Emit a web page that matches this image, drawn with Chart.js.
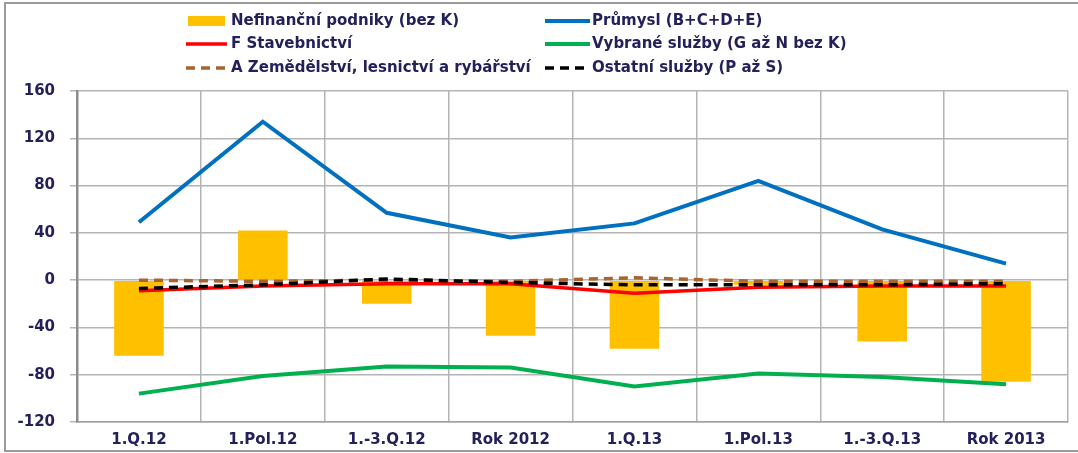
<!DOCTYPE html>
<html>
<head>
<meta charset="utf-8">
<script src="https://cdn.jsdelivr.net/npm/chart.js@4/dist/chart.umd.min.js"></script>
<style>
html,body{margin:0;padding:0;background:#fff;}
#wrap{position:absolute;left:0;top:0;width:1078px;height:453px;}
</style>
</head>
<body>
<div id="wrap"><canvas id="c" width="1078" height="453"></canvas></div>
<script>
const categories = ['1.Q.12','1.Pol.12','1.-3.Q.12','Rok 2012','1.Q.13','1.Pol.13','1.-3.Q.13','Rok 2013'];
const nefinancni = [-64, 42, -20, -47, -58, -4, -52, -86];
const prumysl = [49, 134, 57, 36, 48, 84, 43, 14];
const stavebnictvi = [-9, -5, -3, -3, -11, -6, -5, -5];
const sluzby = [-96, -81, -73, -74, -90, -79, -82, -88];
const zemedelstvi = [0, -1, 0, -1, 2, -1, -1, -1];
const ostatni = [-7, -4, 1, -2, -4, -4, -4, -3];
const yTicks = [-120, -80, -40, 0, 40, 80, 120, 160];

const TEXT = '#24215a';
const FONT = 'DejaVu Sans';

const frameAndLegend = {
  id: 'frameAndLegend',
  beforeDraw(chart) {
    const ctx = chart.ctx;
    ctx.save();
    ctx.fillStyle = '#fff';
    ctx.fillRect(0, 0, chart.width, chart.height);
    ctx.strokeStyle = '#9a9a9a';
    ctx.lineWidth = 2;
    ctx.strokeRect(5, 3, 1075, 448);
    ctx.restore();
  },
  afterDraw(chart) {
    const ctx = chart.ctx;
    const cols = [{sx: 186, ex: 227, tx: 231}, {sx: 545, ex: 590, tx: 592}];
    const rows = [21, 44, 68];
    ctx.save();
    ctx.font = 'bold 15px "' + FONT + '"';
    ctx.textBaseline = 'middle';
    chart.data.datasets.forEach((ds, i) => {
      const c = cols[i % 2], y = rows[Math.floor(i / 2)];
      if (ds.type === 'bar') {
        ctx.fillStyle = ds.backgroundColor;
        ctx.fillRect(c.sx + 2, y - 5, c.ex - c.sx - 4, 10);
      } else {
        ctx.strokeStyle = ds.borderColor;
        ctx.lineWidth = ds.borderWidth;
        ctx.setLineDash(ds.borderDash || []);
        ctx.beginPath();
        ctx.moveTo(c.sx, y);
        ctx.lineTo(c.ex, y);
        ctx.stroke();
        ctx.setLineDash([]);
      }
      ctx.fillStyle = TEXT;
      ctx.fillText(ds.label, c.tx, y);
    });
    ctx.restore();
  }
};

new Chart(document.getElementById('c'), {
  data: {
    labels: categories,
    datasets: [
      {type: 'bar', label: 'Nefinanční podniky (bez K)', data: nefinancni, backgroundColor: '#FFC000', barPercentage: 0.4, categoryPercentage: 1.0, order: 10},
      {type: 'line', label: 'Průmysl (B+C+D+E)', data: prumysl, borderColor: '#0070C0', borderWidth: 4, pointRadius: 0, tension: 0, order: 1},
      {type: 'line', label: 'F Stavebnictví', data: stavebnictvi, borderColor: '#FF0000', borderWidth: 3.5, pointRadius: 0, tension: 0, order: 4},
      {type: 'line', label: 'Vybrané služby (G až N bez K)', data: sluzby, borderColor: '#00B050', borderWidth: 4, pointRadius: 0, tension: 0, order: 2},
      {type: 'line', label: 'A Zemědělství, lesnictví a rybářství', data: zemedelstvi, borderColor: '#A8642E', borderWidth: 3.5, borderDash: [9, 6], pointRadius: 0, tension: 0, order: 5},
      {type: 'line', label: 'Ostatní služby (P až S)', data: ostatni, borderColor: '#000000', borderWidth: 3.5, borderDash: [9, 6], pointRadius: 0, tension: 0, order: 3}
    ]
  },
  options: {
    responsive: false,
    animation: false,
    events: [],
    layout: {padding: {top: 91, right: 10, bottom: 0, left: 0}},
    plugins: {legend: {display: false}, tooltip: {enabled: false}, title: {display: false}},
    scales: {
      x: {
        offset: true,
        grid: {offset: true, color: '#b4b4b4', lineWidth: 1.5, drawTicks: false},
        border: {color: '#a0a0a0', width: 1.5},
        ticks: {color: TEXT, font: {family: FONT, size: 15, weight: 'bold'}, padding: 9, maxRotation: 0, autoSkip: false},
        afterFit(s) { s.height = 31; }
      },
      y: {
        min: -120, max: 160,
        afterBuildTicks(s) { s.ticks = yTicks.map(v => ({value: v})); },
        grid: {color: '#b4b4b4', lineWidth: 1.5, tickLength: 7},
        border: {color: '#8c8c8c', width: 2.5},
        ticks: {color: TEXT, font: {family: FONT, size: 15, weight: 'bold'}, padding: 15},
        afterFit(s) { s.width = 77; }
      }
    }
  },
  plugins: [frameAndLegend]
});
</script>
</body>
</html>
